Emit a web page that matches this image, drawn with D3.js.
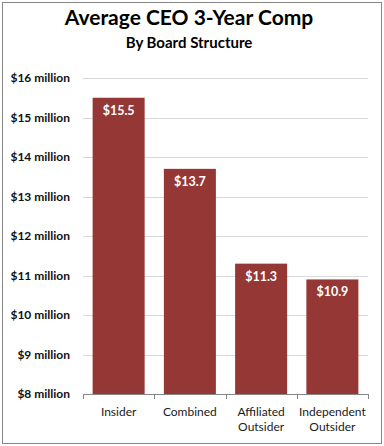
<!DOCTYPE html>
<html>
<head>
<meta charset="utf-8">
<script src="https://cdn.jsdelivr.net/npm/d3@7"></script>
<style>
  body { margin: 0; background: #fff; }
  text { font-family: Lato, "Open Sans", sans-serif; }
</style>
</head>
<body>
<div class="chart"></div>
<script>
var categories = [["Insider"], ["Combined"], ["Affiliated", "Outsider"], ["Independent", "Outsider"]];
var values = [15.5, 13.7, 11.3, 10.9];
var tickValues = [8, 9, 10, 11, 12, 13, 14, 15, 16];

var W = 384, H = 446,
  margin = {top: 78, right: 16, bottom: 52, left: 83},
  width = 368 - margin.left,
  height = 394 - margin.top,
  barColor = "#953735";

var svg = d3.select(".chart")
  .append("svg")
  .attr("width", W)
  .attr("height", H);

// outer frame
svg.append("rect")
  .attr("x", 2.5)
  .attr("y", 2.5)
  .attr("width", 379)
  .attr("height", 441)
  .attr("fill", "#fff")
  .attr("stroke", "#868686");

svg.append("text")
  .attr("x", 189)
  .attr("y", 25)
  .attr("text-anchor", "middle")
  .style("font-size", "21px")
  .style("font-weight", "bold")
  .text("Average CEO 3-Year Comp");

svg.append("text")
  .attr("x", 189)
  .attr("y", 48)
  .attr("text-anchor", "middle")
  .style("font-size", "15px")
  .style("font-weight", "bold")
  .text("By Board Structure");

var g = svg.append("g")
  .attr("transform", "translate(" + margin.left + "," + margin.top + ")");

var keys = categories.map(function(d) { return d.join(" "); });

var x = d3.scaleBand()
  .domain(keys)
  .range([0, width])
  .paddingInner(0.27)
  .paddingOuter(0.135);

var y = d3.scaleLinear()
  .domain([8, 16])
  .range([height, 0]);

// gridlines
g.selectAll(".grid")
  .data(tickValues.slice(1))
  .enter().append("line")
    .attr("x1", 0)
    .attr("x2", width)
    .attr("y1", function(d) { return Math.round(y(d)) + 0.5; })
    .attr("y2", function(d) { return Math.round(y(d)) + 0.5; })
    .attr("stroke", "#d9d9d9");

// y labels
g.selectAll(".ylab")
  .data(tickValues)
  .enter().append("text")
    .attr("x", -13)
    .attr("y", function(d) { return y(d); })
    .attr("dy", "0.35em")
    .attr("text-anchor", "end")
    .attr("fill", "#111")
    .style("font-size", "12px")
    .style("font-weight", "bold")
    .text(function(d) { return "$" + d + " million"; });

g.selectAll(".bar")
  .data(values)
  .enter().append("rect")
    .attr("x", function(d, i) { return x(keys[i]); })
    .attr("y", function(d) { return y(d); })
    .attr("width", x.bandwidth())
    .attr("height", function(d) { return height - y(d); })
    .attr("fill", barColor);

g.selectAll(".val")
  .data(values)
  .enter().append("text")
    .attr("x", function(d, i) { return x(keys[i]) + x.bandwidth() / 2; })
    .attr("y", function(d) { return y(d) + 17; })
    .attr("text-anchor", "middle")
    .attr("fill", "#fff")
    .style("font-size", "12.5px")
    .style("font-weight", "bold")
    .text(function(d) { return "$" + d3.format(".1f")(d); });

// x axis
var xAxis = g.append("g")
  .attr("transform", "translate(0," + height + ")");

xAxis.append("line")
  .attr("x1", 0)
  .attr("x2", width)
  .attr("y1", 0.5)
  .attr("y2", 0.5)
  .attr("stroke", "#868686");

var step = width / keys.length;
xAxis.selectAll(".tick")
  .data(d3.range(keys.length + 1))
  .enter().append("line")
    .attr("x1", function(d) { return Math.round(d * step) + 0.5; })
    .attr("x2", function(d) { return Math.round(d * step) + 0.5; })
    .attr("y1", 0)
    .attr("y2", 5)
    .attr("stroke", "#868686");

xAxis.selectAll(".xlab")
  .data(categories)
  .enter().append("text")
    .attr("x", function(d, i) { return x(keys[i]) + x.bandwidth() / 2; })
    .attr("y", 22)
    .attr("text-anchor", "middle")
    .attr("fill", "#1a1a1a")
    .style("font-size", "12px")
    .selectAll("tspan")
    .data(function(d) { return d; })
    .enter().append("tspan")
      .attr("x", function() { return d3.select(this.parentNode).attr("x"); })
      .attr("dy", function(d, i) { return i === 0 ? 0 : 15; })
      .text(function(d) { return d; });
</script>
</body>
</html>
